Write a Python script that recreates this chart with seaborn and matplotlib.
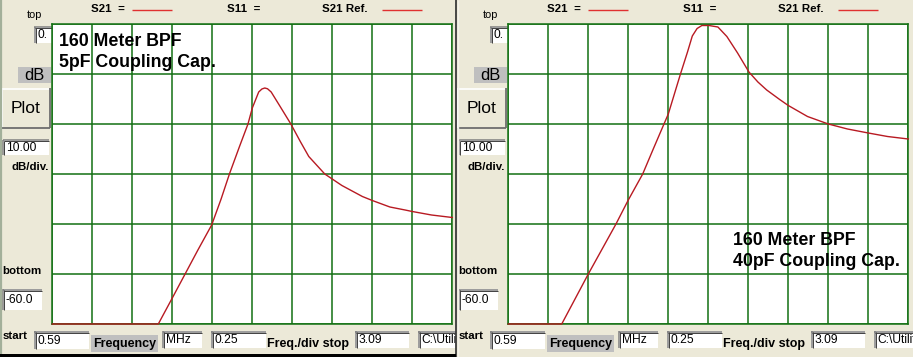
import numpy as np
import matplotlib
matplotlib.use("Agg")
import matplotlib.pyplot as plt
from matplotlib.patches import Rectangle
from matplotlib.lines import Line2D
import seaborn as sns

# ---------------- data ----------------
freq_5pf = [0.59, 1.2525, 1.34, 1.42, 1.50, 1.586, 1.645, 1.697, 1.76, 1.813, 1.84,
            1.88, 1.90, 1.918, 1.935, 1.958, 2.014, 2.081, 2.14, 2.193, 2.293, 2.40,
            2.528, 2.59, 2.70, 2.795, 2.84, 2.96, 3.09]
db_5pf = [-60.0, -60.0, -54.8, -50.0, -45.2, -40.2, -35.0, -30.0, -24.5, -20.0, -16.8,
          -13.6, -13.0, -12.8, -12.95, -13.6, -16.5, -20.0, -23.5, -26.5, -30.0, -32.3,
          -34.5, -35.3, -36.6, -37.2, -37.5, -38.2, -38.7]

freq_40pf = [0.59, 0.924, 1.09, 1.263, 1.34, 1.43, 1.496, 1.563, 1.59, 1.666, 1.71,
             1.74, 1.77, 1.80, 1.844, 1.90, 1.956, 2.023, 2.094, 2.15, 2.205, 2.286,
             2.34, 2.46, 2.59, 2.71, 2.84, 2.96, 3.09]
db_40pf = [-60.0, -60.0, -50.0, -40.0, -35.2, -30.0, -25.0, -20.0, -18.0, -10.0, -5.6,
           -2.4, -0.9, -0.3, -0.3, -0.6, -2.5, -5.8, -9.6, -11.6, -13.2, -15.1,
           -16.3, -18.5, -20.0, -21.0, -21.8, -22.5, -23.0]

titles = [["160 Meter BPF", "5pF Coupling Cap."],
          ["160 Meter BPF", "40pF Coupling Cap."]]

f_start, f_step, f_stop = 0.59, 0.25, 3.09
db_top, db_div, db_bottom = 0.0, 10.0, -60.0
legend_labels = ["S21  =", "S11  =", "S21 Ref."]
box_texts = {"top": "0.", "dbdiv": "10.00", "bottom": "-60.0", "start": "0.59",
             "unit": "MHz", "step": "0.25", "stop": "3.09", "path": "C:\\Utilit"}

# ---------------- style ----------------
W, H = 913, 357
BG = "#ECE9D8"
GREEN = "#137013"
RED = "#B81A22"
FONT = "Liberation Sans"

fig = plt.figure(figsize=(W / 100, H / 100), dpi=100, facecolor=BG)


def fx(x):
    return x / W


def fy(y):
    return 1 - y / H


def rect(x0, y0, x1, y1, fc, ec="none", lw=0, z=2):
    r = Rectangle((fx(x0), fy(y1)), (x1 - x0) / W, (y1 - y0) / H,
                  transform=fig.transFigure, facecolor=fc, edgecolor=ec,
                  linewidth=lw, zorder=z)
    fig.add_artist(r)


def hline(x0, x1, y, c, lw=1.0, z=3):
    fig.add_artist(Line2D([fx(x0), fx(x1)], [fy(y), fy(y)], transform=fig.transFigure,
                          color=c, lw=lw, zorder=z, solid_capstyle="butt"))


def vline(x, y0, y1, c, lw=1.0, z=3):
    fig.add_artist(Line2D([fx(x), fx(x)], [fy(y0), fy(y1)], transform=fig.transFigure,
                          color=c, lw=lw, zorder=z, solid_capstyle="butt"))


def txt(x, y, s, size_px, bold=False, ha="left", va="center", z=4, color="black"):
    fig.text(fx(x), fy(y), s, fontsize=size_px * 0.72, fontweight="bold" if bold else "normal",
             ha=ha, va=va, family=FONT, color=color, zorder=z)


def sunken(x0, y0, x1, y1, s, z=3, tx=None):
    rect(x0, y0, x1, y1, "white", z=z)
    hline(x0, x1, y0 + 0.5, "#808080", 1.1, z + 0.1)
    vline(x0 + 0.5, y0, y1, "#808080", 1.1, z + 0.1)
    hline(x0 + 1, x1, y0 + 1.5, "#404040", 0.7, z + 0.1)
    vline(x0 + 1.5, y0 + 1, y1, "#404040", 0.7, z + 0.1)
    txt((tx if tx is not None else x0 + 3), (y0 + y1) / 2 + 0.5, s, 12, z=z + 0.2)


def panel(ox, freq, db, z0):
    # panel background
    rect(ox, 0, ox + 457, H, BG, z=z0)
    # legend row
    txt(ox + 90.7, 8.5, legend_labels[0], 11.5, bold=True, z=z0 + 1)
    hline(ox + 132, ox + 172, 9.5, "#E03030", 1.0, z0 + 1)
    txt(ox + 227, 8.5, legend_labels[1], 11.5, bold=True, z=z0 + 1)
    txt(ox + 322, 8.5, legend_labels[2], 11.5, bold=True, z=z0 + 1)
    hline(ox + 382, ox + 422, 9.5, "#E03030", 1.0, z0 + 1)
    # left column widgets
    txt(ox + 27, 15.5, "top", 11, z=z0 + 1)
    sunken(ox + 34.3, 26.7, ox + 52, 43, box_texts["top"], z=z0 + 1)
    rect(ox + 17.7, 66.7, ox + 51, 83.3, "#BFBFBF", z=z0 + 1)
    txt(ox + 34.5, 75.5, "dB", 16.5, ha="center", z=z0 + 2)
    # raised Plot button
    rect(ox + 1.7, 88, ox + 50, 128, BG, z=z0 + 1)
    hline(ox + 1.7, ox + 50, 88.5, "white", 1.2, z0 + 1.5)
    vline(ox + 2.2, 88, 128, "white", 1.2, z0 + 1.5)
    hline(ox + 1.7, ox + 50, 127.5, "#6E6E6E", 1.3, z0 + 1.5)
    vline(ox + 49.5, 88, 128, "#6E6E6E", 1.3, z0 + 1.5)
    txt(ox + 25.5, 108.5, "Plot", 17.5, ha="center", z=z0 + 2)
    sunken(ox + 2.7, 140, ox + 49, 155, box_texts["dbdiv"], z=z0 + 1)
    txt(ox + 11.7, 167, "dB/div.", 11.5, bold=True, z=z0 + 1)
    txt(ox + 2.7, 271, "bottom", 11.5, bold=True, z=z0 + 1)
    sunken(ox + 2.7, 289, ox + 41.7, 310, box_texts["bottom"], z=z0 + 1)
    # bottom row
    txt(ox + 2.7, 336, "start", 11.5, bold=True, z=z0 + 1)
    sunken(ox + 34.3, 331, ox + 89.3, 349, box_texts["start"], z=z0 + 1)
    rect(ox + 90.7, 335, ox + 157.7, 352, "#BFBFBF", z=z0 + 1)
    txt(ox + 124.2, 344, "Frequency", 12.5, bold=True, ha="center", z=z0 + 2)
    sunken(ox + 162.7, 331, ox + 201.7, 348, box_texts["unit"], z=z0 + 1)
    sunken(ox + 211, 331, ox + 265.7, 348, box_texts["step"], z=z0 + 1)
    txt(ox + 266.7, 344, "Freq./div stop", 12.5, bold=True, z=z0 + 1)
    sunken(ox + 355, 331, ox + 409.3, 348, box_texts["stop"], z=z0 + 1)
    sunken(ox + 418.3, 331, ox + 475, 348, box_texts["path"], z=z0 + 1)

    # plot area
    ax = fig.add_axes([fx(ox + 52.3), fy(324), 400 / W, 300 / H])
    ax.set_zorder(z0 + 5)
    ax.set_facecolor("white")
    sns.lineplot(x=freq, y=db, ax=ax, color=RED, lw=1.0, estimator=None,
                 sort=False, clip_on=False, zorder=5)
    ax.set_xlim(f_start, f_stop)
    ax.set_ylim(db_bottom, db_top)
    n_x = int(round((f_stop - f_start) / f_step))
    n_y = int(round((db_top - db_bottom) / db_div))
    ax.set_xticks([f_start + i * f_step for i in range(n_x + 1)])
    ax.set_yticks([db_bottom + i * db_div for i in range(n_y + 1)])
    ax.tick_params(length=0, labelbottom=False, labelleft=False)
    ax.grid(True, color=GREEN, lw=1.1)
    ax.set_axisbelow(True)
    for sp in ax.spines.values():
        sp.set_color(GREEN)
        sp.set_linewidth(1.1)
    ax.set_xlabel("")
    ax.set_ylabel("")
    return ax


ax1 = panel(0, freq_5pf, db_5pf, 1)
ax2 = panel(456, freq_40pf, db_40pf, 20)

# annotations inside plots
for line, base in zip(titles[0], [46, 67]):
    fig.text(fx(59.3), fy(base), line, fontsize=17.8 * 0.72, fontweight="bold",
             family=FONT, ha="left", va="baseline", zorder=40)
for line, base in zip(titles[1], [245, 266]):
    fig.text(fx(732.7), fy(base), line, fontsize=17.8 * 0.72, fontweight="bold",
             family=FONT, ha="left", va="baseline", zorder=40)

# frame details
vline(0.8, 0, H, "#A3B09A", 1.6, 50)
vline(456, 0, H, "#3A3A3A", 1.3, 50)
vline(457.6, 0, H, "#F4F2EA", 1.0, 50)
rect(0, 354.3, 456, H, "black", z=50)

fig.savefig("out.png", dpi=100, facecolor=BG)
